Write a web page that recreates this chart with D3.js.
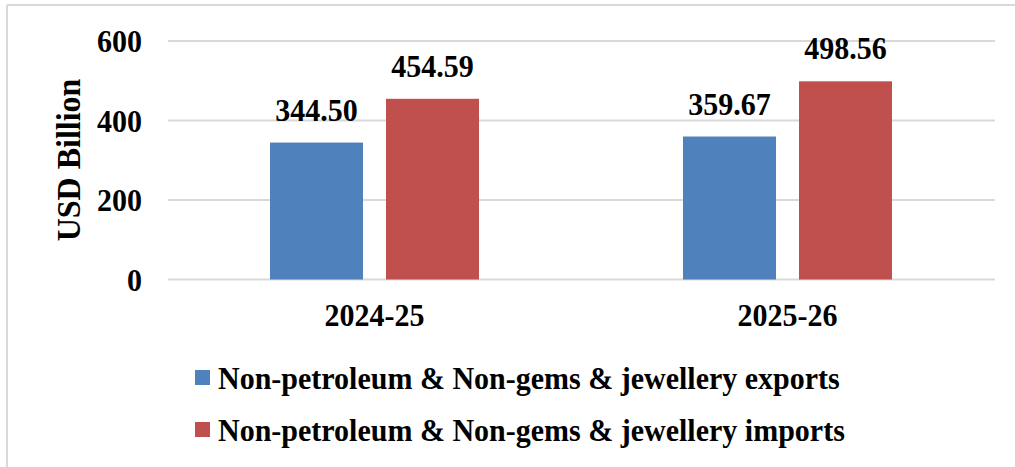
<!DOCTYPE html>
<html>
<head>
<meta charset="utf-8">
<script src="https://cdn.jsdelivr.net/npm/d3@7"></script>
<style>
html,body{margin:0;padding:0;background:#fff;}
svg{display:block;}
text{font-family:"Liberation Serif","Times New Roman",serif;font-weight:bold;fill:#000;}
</style>
</head>
<body>
<svg id="chart" width="1015" height="467"></svg>
<script>
const categories = ["2024-25", "2025-26"];
const seriesNames = [
  "Non-petroleum & Non-gems & jewellery exports",
  "Non-petroleum & Non-gems & jewellery imports"
];
const exportsValues = [344.50, 359.67];
const importsValues = [454.59, 498.56];
const yTicks = [0, 200, 400, 600];
const colors = ["#4F81BD", "#C0504D"];

const series = [exportsValues, importsValues];
const svg = d3.select("#chart");

// frame
svg.append("line").attr("x1", 7).attr("x2", 7).attr("y1", 5).attr("y2", 467)
  .attr("stroke", "#d9d9d9").attr("stroke-width", 2);
svg.append("line").attr("x1", 7).attr("x2", 1015).attr("y1", 5).attr("y2", 5)
  .attr("stroke", "#d9d9d9").attr("stroke-width", 2);

const x0 = d3.scaleBand().domain(categories).range([168, 994]).paddingInner(0).paddingOuter(0);
const y = d3.scaleLinear().domain([0, 600]).range([279.5, 41]);

// gridlines
svg.append("g").selectAll("line").data(yTicks).join("line")
  .attr("x1", 168).attr("x2", 995)
  .attr("y1", d => y(d)).attr("y2", d => y(d))
  .attr("stroke", "#d9d9d9").attr("stroke-width", 2);

// y axis labels
const yAxis = d3.axisLeft(y).tickValues(yTicks).tickSize(0).tickPadding(0);
const gy = svg.append("g").attr("transform", "translate(142,0)").call(yAxis);
gy.select(".domain").remove();
gy.attr("font-family", null).attr("font-size", null);
gy.selectAll("text").attr("font-size", 30)
  .attr("dy", "0.33em").style("font-weight", "bold");

// axis title
svg.append("text")
  .attr("transform", "translate(80,160) rotate(-90)")
  .attr("text-anchor", "middle").attr("font-size", 32)
  .text("USD Billion");

// bars
const barW = 93, gap = 23;
const x1 = d3.scaleBand().domain([0, 1]).range([0, barW * 2 + gap]).paddingInner(gap / (barW + gap)).paddingOuter(0);
categories.forEach((c, i) => {
  const gx = x0(c) + x0.bandwidth() / 2 - (barW * 2 + gap) / 2;
  series.forEach((s, k) => {
    const v = s[i];
    svg.append("rect")
      .attr("x", gx + x1(k)).attr("width", x1.bandwidth())
      .attr("y", y(v)).attr("height", y(0) - y(v))
      .attr("fill", colors[k]);
    svg.append("text")
      .attr("x", gx + x1(k) + x1.bandwidth() / 2)
      .attr("y", y(v) - 22)
      .attr("text-anchor", "middle").attr("font-size", 30)
      .text(v.toFixed(2));
  });
});

// category labels
const xAxis = d3.axisBottom(x0).tickSize(0).tickPadding(0);
const gxa = svg.append("g").attr("transform", "translate(0,303)").call(xAxis);
gxa.select(".domain").remove();
gxa.attr("font-family", null).attr("font-size", null);
gxa.selectAll("text").attr("font-size", 30)
  .attr("dy", "0.72em").style("font-weight", "bold");

// legend
const legY = [389, 441];
seriesNames.forEach((n, k) => {
  svg.append("rect").attr("x", 195).attr("y", legY[k] - 19).attr("width", 15).attr("height", 15)
    .attr("fill", colors[k]);
  svg.append("text").attr("x", 218).attr("y", legY[k]).attr("font-size", 30).text(n);
});

// slightly taller glyphs at the same width, as in the reference
svg.selectAll("text").each(function () {
  const t = d3.select(this);
  const fs = +t.attr("font-size");
  const w = this.getComputedTextLength();
  t.attr("font-size", fs * 1.08)
   .attr("textLength", w)
   .attr("lengthAdjust", "spacingAndGlyphs");
});
</script>
</body>
</html>
